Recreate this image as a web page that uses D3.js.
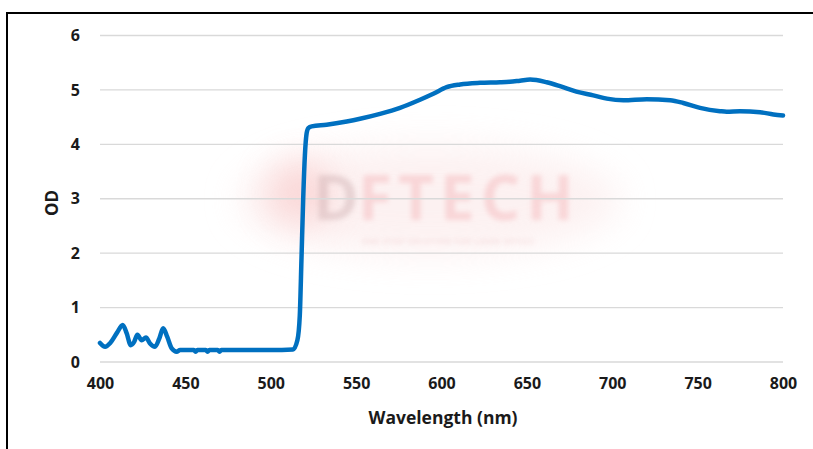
<!DOCTYPE html>
<html>
<head>
<meta charset="utf-8">
<script src="https://cdn.jsdelivr.net/npm/d3@7/dist/d3.min.js"></script>
<style>
  body { margin: 0; background: #fff; }
  svg { display: block; }
  text { font-family: "Open Sans", "DejaVu Sans", sans-serif; font-weight: 700; fill: #1a1a1a; }
</style>
</head>
<body>
<div id="chart"></div>
<script>
// spectrum
var wavelength = [400, 403, 406, 409.8, 413.3, 415.6, 418, 420, 421.9, 424.4, 426.9, 429.3, 432.2, 434.7, 437, 439.4, 442, 444.9, 446.9,
  455, 456, 457, 462, 463, 464, 469, 470, 471, 480, 500, 513, 515.6, 517, 518, 519, 520, 521, 522, 524,
  532.7, 544.5, 552.3, 564, 575.7, 587.4, 595.2, 603, 610.9, 622.6, 634.3, 640, 646, 651.9, 661.6, 669.4,
  679, 688.9, 696.8, 706.5, 720.2, 733.9, 741.6, 751.4, 763.1, 767, 774.8, 786.6, 794.4, 800];
var od = [0.35, 0.28, 0.35, 0.53, 0.68, 0.53, 0.31, 0.37, 0.5, 0.4, 0.45, 0.34, 0.28, 0.43, 0.62, 0.46, 0.25, 0.19, 0.22,
  0.22, 0.19, 0.22, 0.22, 0.19, 0.22, 0.22, 0.19, 0.22, 0.22, 0.22, 0.23, 0.4, 0.85, 1.9, 3.0, 3.8, 4.2, 4.3, 4.33,
  4.36, 4.42, 4.47, 4.56, 4.67, 4.82, 4.93, 5.05, 5.1, 5.13, 5.14, 5.15, 5.17, 5.19, 5.14, 5.07,
  4.97, 4.9, 4.84, 4.81, 4.83, 4.81, 4.76, 4.67, 4.61, 4.6, 4.61, 4.59, 4.55, 4.53];
var xTicks = [400, 450, 500, 550, 600, 650, 700, 750, 800];
var yTicks = [0, 1, 2, 3, 4, 5, 6];

var W = 813, H = 449;
var x = d3.scaleLinear().domain([400, 800]).range([100, 783]);
var y = d3.scaleLinear().domain([0, 6]).range([362, 35.5]);

var svg = d3.select("#chart").append("svg").attr("width", W).attr("height", H);

var defs = svg.append("defs");
defs.append("filter").attr("id", "blur").attr("x", "-50%").attr("y", "-50%").attr("width", "200%").attr("height", "200%")
  .append("feGaussianBlur").attr("stdDeviation", 2.5);
defs.append("filter").attr("id", "glow").attr("x", "-50%").attr("y", "-50%").attr("width", "200%").attr("height", "200%")
  .append("feGaussianBlur").attr("stdDeviation", 18);

// faint watermark behind the plot
var wm = svg.append("g");
wm.append("ellipse").attr("cx", 430).attr("cy", 200).attr("rx", 190).attr("ry", 55)
  .attr("fill", "#fbe8e8").attr("opacity", 0.6).attr("filter", "url(#glow)");
wm.append("circle").attr("cx", 300).attr("cy", 192).attr("r", 32)
  .attr("fill", "#f7b5b5").attr("opacity", 0.45).attr("filter", "url(#glow)");
wm.append("text").attr("x", 313).attr("y", 220).attr("font-size", 62)
  .style("fill", "#c9a9ab").attr("opacity", 0.4).attr("filter", "url(#blur)").text("D");
wm.append("text").attr("x", 358).attr("y", 220).attr("font-size", 62).attr("letter-spacing", 6)
  .style("fill", "#f3a9ad").attr("opacity", 0.38).attr("filter", "url(#blur)").text("FTECH");
wm.append("text").attr("x", 362).attr("y", 244).attr("font-size", 7).attr("letter-spacing", 1)
  .style("fill", "#e3a3a6").attr("opacity", 0.35).attr("filter", "url(#blur)")
  .text("ONE STOP SOLUTION FOR LASER OPTICS");

// outer frame
svg.append("rect").attr("x", 7).attr("y", 13).attr("width", W + 10).attr("height", H + 10)
  .attr("fill", "none").attr("stroke", "#000").attr("stroke-width", 2);

// gridlines
svg.append("g").selectAll("line").data(yTicks).enter().append("line")
  .attr("x1", x(400)).attr("x2", x(800))
  .attr("y1", function(d) { return y(d); }).attr("y2", function(d) { return y(d); })
  .attr("stroke", "#d9d9d9").attr("stroke-width", 1.3);

// axes
var xAxis = svg.append("g").attr("transform", "translate(0," + y(0) + ")")
  .call(d3.axisBottom(x).tickValues(xTicks).tickSize(0).tickPadding(16).tickFormat(d3.format("d")));
xAxis.select(".domain").remove();
xAxis.selectAll("text").attr("font-size", 16);

var yAxis = svg.append("g").attr("transform", "translate(" + (x(400) - 20) + ",0)")
  .call(d3.axisLeft(y).tickValues(yTicks).tickSize(0).tickPadding(0).tickFormat(d3.format("d")));
yAxis.select(".domain").remove();
yAxis.selectAll("text").attr("font-size", 16);

svg.selectAll(".tick text").style("fill", "#1a1a1a").style("font-weight", 700)
  .style("font-family", "'Open Sans', 'DejaVu Sans', sans-serif");

// axis titles
svg.append("text").attr("x", 443).attr("y", 424).attr("text-anchor", "middle")
  .attr("font-size", 17.5).text("Wavelength (nm)");
svg.append("text").attr("transform", "translate(58,203) rotate(-90)").attr("text-anchor", "middle")
  .attr("font-size", 17).text("OD");

// the curve
var pts = wavelength.map(function(w, i) { return [w, od[i]]; });
var line = d3.line()
  .x(function(d) { return x(d[0]); })
  .y(function(d) { return y(d[1]); })
  .curve(d3.curveMonotoneX);

svg.append("path").datum(pts)
  .attr("d", line)
  .attr("fill", "none")
  .attr("stroke", "#0070c0")
  .attr("stroke-width", 4.5)
  .attr("stroke-linejoin", "round")
  .attr("stroke-linecap", "round");
</script>
</body>
</html>
